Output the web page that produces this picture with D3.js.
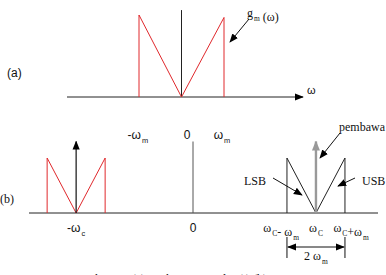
<!DOCTYPE html>
<html>
<head>
<script src="https://cdn.jsdelivr.net/npm/d3@7"></script>
</head>
<body style="margin:0; background:#fff;">
<div id="chart"></div>
<script>
'use strict';

// spectrum shape of the message signal, in units of omega_m / peak amplitude
var msgShape = [[-1, 0], [-1, 1], [0, 0], [1, 0.97], [1, 0]];
var sidebandShape = [[-1, 0], [-1, 1], [0, 0], [1, 1], [1, 0]];
// carrier positions in (b), in units of omega_m
var carriers = [-4.03, 4.24];
var carrierHeight = 1.3;
var bTicksTop = [{v: -1.9, t: "-ω", s: "m"}, {v: -0.2, t: "0", s: ""}, {v: 1.0, t: "ω", s: "m"}];
var bTicksBottom = [
  {v: -4.03, parts: [["-ω", ""], ["c", "sub"]]},
  {v: 0, parts: [["0", ""]]},
  {v: 3.04, parts: [["ω", ""], ["C", "sub"], ["- ω", ""], ["m", "sub"]]},
  {v: 4.24, parts: [["ω", ""], ["C", "sub"]]},
  {v: 5.45, parts: [["ω", ""], ["C", "sub"], ["+ω", ""], ["m", "sub"]]}
];

var W = 386, H = 275;
var svg = d3.select("#chart").append("svg").attr("width", W).attr("height", H);

var defs = svg.append("defs");
function marker(id, color, size) {
  defs.append("marker").attr("id", id).attr("viewBox", "0 0 10 10")
    .attr("refX", 9).attr("refY", 5).attr("markerWidth", size).attr("markerHeight", size)
    .attr("markerUnits", "userSpaceOnUse").attr("orient", "auto-start-reverse")
    .append("path").attr("d", "M0,1 L10,5 L0,9 Z").attr("fill", color);
}
marker("ah", "#000", 9);
marker("ahg", "#999", 10);

var serif = "'Liberation Serif', 'DejaVu Serif', serif";
var sans = "'Liberation Sans', Arial, sans-serif";

function label(x, y, parts, font, size, anchor) {
  var t = svg.append("text").attr("x", x).attr("y", y)
    .attr("font-family", font).attr("font-size", size)
    .attr("text-anchor", anchor || "start").attr("fill", "#111");
  parts.forEach(function (p) {
    if (p[1] === "sub") {
      t.append("tspan").attr("font-size", size * 0.62).attr("dy", 4).attr("dx", 1).text(p[0]);
      t.append("tspan").attr("dy", -4).attr("dx", 1).text("");
    } else {
      t.append("tspan").text(p[0]);
    }
  });
  return t;
}

// ---------- panel (a)
var xa = d3.scaleLinear().domain([-1, 1]).range([139, 224]);
var ya = d3.scaleLinear().domain([0, 1]).range([97, 15]);

svg.append("line").attr("x1", 67).attr("x2", 303).attr("y1", ya(0)).attr("y2", ya(0))
  .attr("stroke", "#222").attr("stroke-width", 1).attr("marker-end", "url(#ah)");
svg.append("line").attr("x1", xa(0)).attr("x2", xa(0)).attr("y1", ya(0)).attr("y2", ya(1.06))
  .attr("stroke", "#222").attr("stroke-width", 1);

var lineA = d3.line().x(function (d) { return xa(d[0]); }).y(function (d) { return ya(d[1]); });
svg.append("path").attr("d", lineA(msgShape)).attr("fill", "none")
  .attr("stroke", "#e0282c").attr("stroke-width", 1);

label(307, 94, [["ω", ""]], sans, 11);
label(7, 77, [["(a)", ""]], sans, 12);
label(247, 17, [["g", ""], ["m", "sub"], [" (ω)", ""]], serif, 12);
svg.append("line").attr("x1", 249).attr("y1", 19).attr("x2", 230).attr("y2", 42)
  .attr("stroke", "#111").attr("marker-end", "url(#ah)");

// ---------- panel (b)
var xb = d3.scaleLinear().domain([0, 1]).range([193, 222]);
var yb = d3.scaleLinear().domain([0, 1]).range([213, 158]);

svg.append("line").attr("x1", 29).attr("x2", 378).attr("y1", yb(0)).attr("y2", yb(0))
  .attr("stroke", "#222").attr("stroke-width", 1);
svg.append("line").attr("x1", xb(0)).attr("x2", xb(0)).attr("y1", yb(0)).attr("y2", yb(carrierHeight))
  .attr("stroke", "#555").attr("stroke-width", 1);

// sidebands around each carrier
carriers.forEach(function (c, i) {
  var line = d3.line().x(function (d) { return xb(c + d[0]); }).y(function (d) { return yb(d[1]); });
  svg.append("path").attr("d", line(sidebandShape)).attr("fill", "none")
    .attr("stroke", i === 0 ? "#e0282c" : "#222").attr("stroke-width", 1);
  svg.append("line").attr("x1", xb(c)).attr("x2", xb(c)).attr("y1", yb(0)).attr("y2", yb(carrierHeight))
    .attr("stroke", i === 0 ? "#111" : "#999").attr("stroke-width", i === 0 ? 1.2 : 2.4)
    .attr("marker-end", i === 0 ? "url(#ah)" : "url(#ahg)");
});

bTicksTop.forEach(function (d) {
  var parts = d.s ? [[d.t, ""], [d.s, "sub"]] : [[d.t, ""]];
  label(xb(d.v), 139, parts, sans, 12, "middle");
});
bTicksBottom.forEach(function (d, i) {
  label(xb(d.v), 232, d.parts, i < 2 ? sans : serif, 12, "middle");
});

label(0, 203, [["(b)", ""]], serif, 12);
label(339, 131, [["pembawa", ""]], serif, 12);
svg.append("line").attr("x1", 340).attr("y1", 133).attr("x2", 320).attr("y2", 158)
  .attr("stroke", "#111").attr("marker-end", "url(#ah)");
label(244, 185, [["LSB", ""]], serif, 12);
svg.append("line").attr("x1", 273).attr("y1", 178).attr("x2", 302).attr("y2", 195)
  .attr("stroke", "#111").attr("marker-end", "url(#ah)");
label(362, 185, [["USB", ""]], serif, 12);
svg.append("line").attr("x1", 355).attr("y1", 178).attr("x2", 338).attr("y2", 186)
  .attr("stroke", "#111").attr("marker-end", "url(#ah)");

// 2 omega_m bracket
var b0 = xb(carriers[1] - 1), b1 = xb(carriers[1] + 1);
svg.append("line").attr("x1", b0).attr("x2", b0).attr("y1", 237).attr("y2", 258).attr("stroke", "#111");
svg.append("line").attr("x1", b1).attr("x2", b1).attr("y1", 237).attr("y2", 258).attr("stroke", "#111");
svg.append("line").attr("x1", b0 + 1).attr("x2", b1 - 1).attr("y1", 247).attr("y2", 247)
  .attr("stroke", "#111").attr("marker-end", "url(#ah)").attr("marker-start", "url(#ah)");
label((b0 + b1) / 2, 260, [["2 ω", ""], ["m", "sub"]], serif, 12, "middle");

// caption (only its top shows in the frame)
label(72, 283, [["Gambar 2.6 (a) Spektrum sinyal m(t) (b)", ""]], serif, 12);
</script>
</body>
</html>
